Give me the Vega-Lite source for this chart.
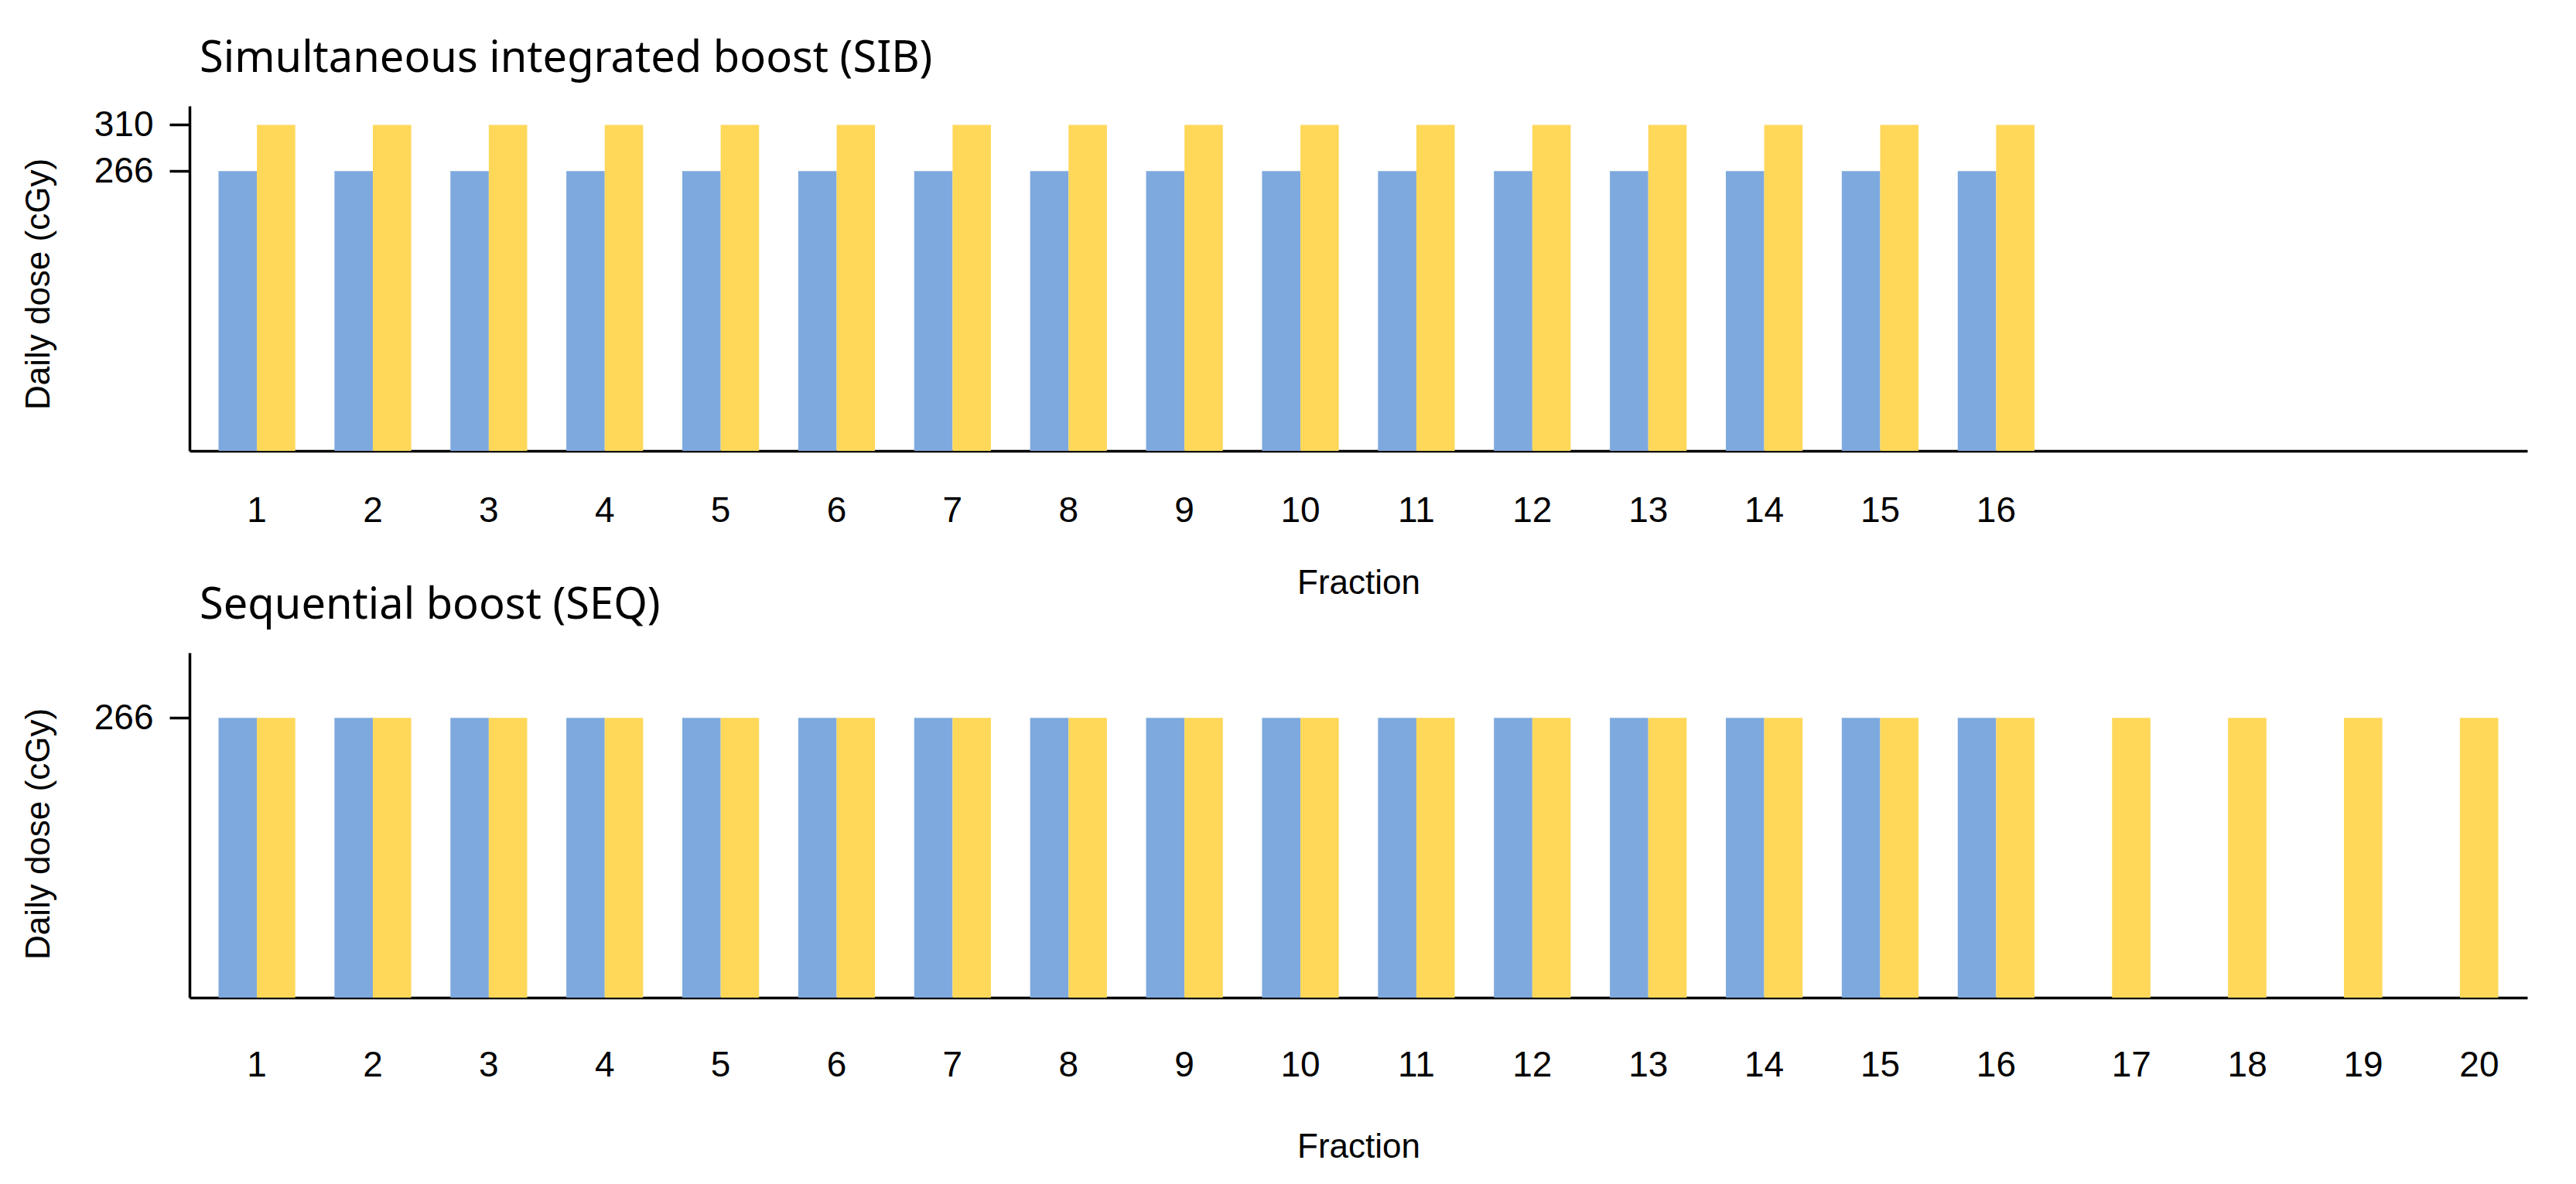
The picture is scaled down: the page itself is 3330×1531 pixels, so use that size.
{
  "$schema": "https://vega.github.io/schema/vega-lite/v6.json",
  "background": "white",
  "padding": {"left": 27, "top": 48, "right": 10, "bottom": 10},
  "datasets": {
    "sib": [
      {"fraction": 1, "target": "Whole breast", "dose": 266}, {"fraction": 1, "target": "Tumor bed", "dose": 310},
      {"fraction": 2, "target": "Whole breast", "dose": 266}, {"fraction": 2, "target": "Tumor bed", "dose": 310},
      {"fraction": 3, "target": "Whole breast", "dose": 266}, {"fraction": 3, "target": "Tumor bed", "dose": 310},
      {"fraction": 4, "target": "Whole breast", "dose": 266}, {"fraction": 4, "target": "Tumor bed", "dose": 310},
      {"fraction": 5, "target": "Whole breast", "dose": 266}, {"fraction": 5, "target": "Tumor bed", "dose": 310},
      {"fraction": 6, "target": "Whole breast", "dose": 266}, {"fraction": 6, "target": "Tumor bed", "dose": 310},
      {"fraction": 7, "target": "Whole breast", "dose": 266}, {"fraction": 7, "target": "Tumor bed", "dose": 310},
      {"fraction": 8, "target": "Whole breast", "dose": 266}, {"fraction": 8, "target": "Tumor bed", "dose": 310},
      {"fraction": 9, "target": "Whole breast", "dose": 266}, {"fraction": 9, "target": "Tumor bed", "dose": 310},
      {"fraction": 10, "target": "Whole breast", "dose": 266}, {"fraction": 10, "target": "Tumor bed", "dose": 310},
      {"fraction": 11, "target": "Whole breast", "dose": 266}, {"fraction": 11, "target": "Tumor bed", "dose": 310},
      {"fraction": 12, "target": "Whole breast", "dose": 266}, {"fraction": 12, "target": "Tumor bed", "dose": 310},
      {"fraction": 13, "target": "Whole breast", "dose": 266}, {"fraction": 13, "target": "Tumor bed", "dose": 310},
      {"fraction": 14, "target": "Whole breast", "dose": 266}, {"fraction": 14, "target": "Tumor bed", "dose": 310},
      {"fraction": 15, "target": "Whole breast", "dose": 266}, {"fraction": 15, "target": "Tumor bed", "dose": 310},
      {"fraction": 16, "target": "Whole breast", "dose": 266}, {"fraction": 16, "target": "Tumor bed", "dose": 310}
    ],
    "seq": [
      {"fraction": 1, "target": "Whole breast", "dose": 266}, {"fraction": 1, "target": "Tumor bed", "dose": 266},
      {"fraction": 2, "target": "Whole breast", "dose": 266}, {"fraction": 2, "target": "Tumor bed", "dose": 266},
      {"fraction": 3, "target": "Whole breast", "dose": 266}, {"fraction": 3, "target": "Tumor bed", "dose": 266},
      {"fraction": 4, "target": "Whole breast", "dose": 266}, {"fraction": 4, "target": "Tumor bed", "dose": 266},
      {"fraction": 5, "target": "Whole breast", "dose": 266}, {"fraction": 5, "target": "Tumor bed", "dose": 266},
      {"fraction": 6, "target": "Whole breast", "dose": 266}, {"fraction": 6, "target": "Tumor bed", "dose": 266},
      {"fraction": 7, "target": "Whole breast", "dose": 266}, {"fraction": 7, "target": "Tumor bed", "dose": 266},
      {"fraction": 8, "target": "Whole breast", "dose": 266}, {"fraction": 8, "target": "Tumor bed", "dose": 266},
      {"fraction": 9, "target": "Whole breast", "dose": 266}, {"fraction": 9, "target": "Tumor bed", "dose": 266},
      {"fraction": 10, "target": "Whole breast", "dose": 266}, {"fraction": 10, "target": "Tumor bed", "dose": 266},
      {"fraction": 11, "target": "Whole breast", "dose": 266}, {"fraction": 11, "target": "Tumor bed", "dose": 266},
      {"fraction": 12, "target": "Whole breast", "dose": 266}, {"fraction": 12, "target": "Tumor bed", "dose": 266},
      {"fraction": 13, "target": "Whole breast", "dose": 266}, {"fraction": 13, "target": "Tumor bed", "dose": 266},
      {"fraction": 14, "target": "Whole breast", "dose": 266}, {"fraction": 14, "target": "Tumor bed", "dose": 266},
      {"fraction": 15, "target": "Whole breast", "dose": 266}, {"fraction": 15, "target": "Tumor bed", "dose": 266},
      {"fraction": 16, "target": "Whole breast", "dose": 266}, {"fraction": 16, "target": "Tumor bed", "dose": 266},
      {"fraction": 17, "target": "Tumor bed", "dose": 266},
      {"fraction": 18, "target": "Tumor bed", "dose": 266},
      {"fraction": 19, "target": "Tumor bed", "dose": 266},
      {"fraction": 20, "target": "Tumor bed", "dose": 266}
    ]
  },
  "config": {
    "view": {"stroke": null},
    "axis": {
      "grid": false,
      "domainColor": "black",
      "domainWidth": 3.5,
      "tickColor": "black",
      "tickWidth": 3.5,
      "labelColor": "black",
      "titleColor": "black",
      "labelFont": "Liberation Sans",
      "titleFont": "Liberation Sans",
      "labelFontSize": 46,
      "titleFontSize": 44,
      "titleFontWeight": "normal"
    },
    "title": {
      "anchor": "start",
      "frame": "group",
      "font": "Noto Sans",
      "fontSize": 56,
      "fontWeight": "normal",
      "color": "black",
      "baseline": "alphabetic",
      "offset": 32,
      "dx": 13
    }
  },
  "bounds": "flush",
  "spacing": 261,
  "vconcat": [
    {
      "title": "Simultaneous integrated boost (SIB)",
      "data": {"name": "sib"},
      "width": 3022,
      "height": 446,
      "mark": {"type": "bar"},
      "encoding": {
        "x": {
          "field": "fraction", "type": "ordinal",
          "scale": {"domain": [1,2,3,4,5,6,7,8,9,10,11,12,13,14,15,16,17,18,19,20], "paddingInner": 0.338, "paddingOuter": 0.25},
          "axis": {"title": "Fraction", "labelAngle": 0, "ticks": false, "tickSize": 0, "labelPadding": 55, "labelExpr": "datum.value <= 16 ? datum.label : ''", "titleY": 171, "titleBaseline": "middle"}
        },
        "xOffset": {"field": "target", "type": "nominal", "scale": {"domain": ["Whole breast", "Tumor bed"], "paddingInner": 0, "paddingOuter": 0}},
        "y": {
          "field": "dose", "type": "quantitative",
          "scale": {"domain": [0, 328], "nice": false},
          "axis": {"values": [266, 310], "title": "Daily dose (cGy)", "tickSize": 26, "labelPadding": 21, "titleX": -195, "titleY": 230, "titleAngle": -90, "titleAlign": "center", "titleBaseline": "middle"}
        },
        "color": {"field": "target", "type": "nominal", "scale": {"domain": ["Whole breast", "Tumor bed"], "range": ["#7EA9DE", "#FFD85A"]}, "legend": null}
      }
    },
    {
      "title": "Sequential boost (SEQ)",
      "data": {"name": "seq"},
      "width": 3022,
      "height": 446,
      "mark": {"type": "bar"},
      "encoding": {
        "x": {
          "field": "fraction", "type": "ordinal",
          "scale": {"domain": [1,2,3,4,5,6,7,8,9,10,11,12,13,14,15,16,17,18,19,20], "paddingInner": 0.338, "paddingOuter": 0.25},
          "axis": {"title": "Fraction", "labelAngle": 0, "ticks": false, "tickSize": 0, "labelPadding": 65, "labelOffset": {"condition": {"test": "datum.value > 16", "value": 25}, "value": 0}, "titleY": 193, "titleBaseline": "middle"}
        },
        "xOffset": {"field": "target", "type": "nominal", "scale": {"domain": ["Whole breast", "Tumor bed"], "paddingInner": 0, "paddingOuter": 0}},
        "y": {
          "field": "dose", "type": "quantitative",
          "scale": {"domain": [0, 328], "nice": false},
          "axis": {"values": [266], "title": "Daily dose (cGy)", "tickSize": 26, "labelPadding": 21, "titleX": -195, "titleY": 234, "titleAngle": -90, "titleAlign": "center", "titleBaseline": "middle"}
        },
        "color": {"field": "target", "type": "nominal", "scale": {"domain": ["Whole breast", "Tumor bed"], "range": ["#7EA9DE", "#FFD85A"]}, "legend": null}
      }
    }
  ],
  "resolve": {"scale": {"x": "independent", "y": "independent", "color": "shared", "xOffset": "independent"}}
}
